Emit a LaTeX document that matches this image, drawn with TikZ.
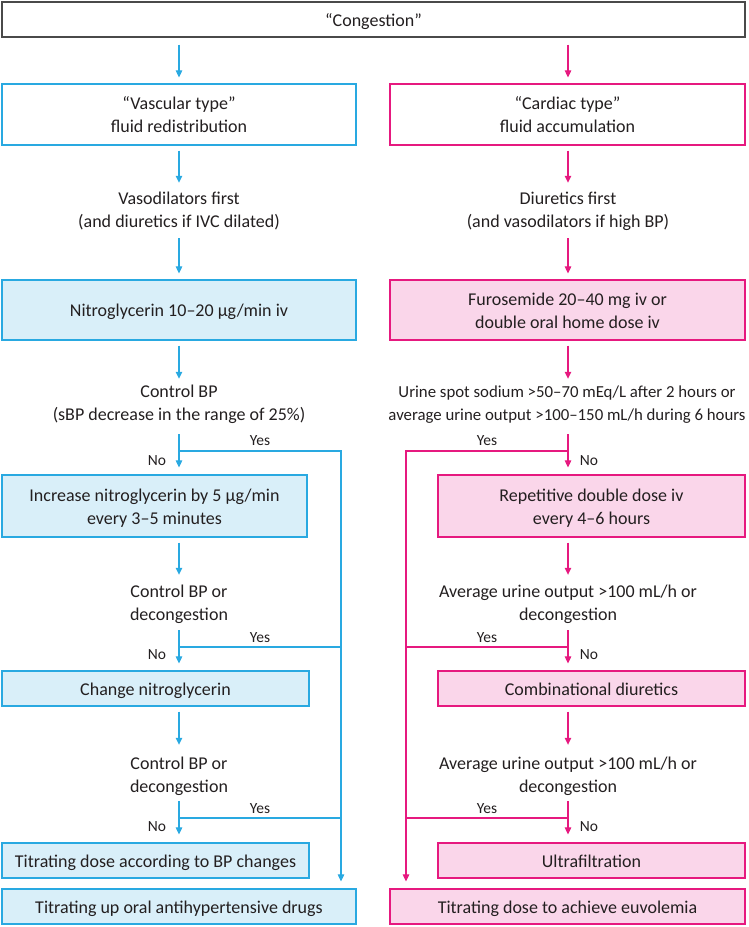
\documentclass[tikz,border=0pt]{standalone}
\usepackage{fontspec}
\setmainfont{Carlito}
\usetikzlibrary{arrows.meta}
\definecolor{bl}{HTML}{29A9E1}
\definecolor{blf}{HTML}{D9EFF9}
\definecolor{pk}{HTML}{E6197F}
\definecolor{pkf}{HTML}{FAD6EA}
\definecolor{tx}{HTML}{231F20}
\definecolor{gr}{HTML}{4A4A4A}
\newcommand\mystrut{\rule[-5pt]{0pt}{23pt}}
\newcommand\twol[2]{\mystrut#1\\\mystrut#2}
\begin{document}
\begin{tikzpicture}[x=1pt,y=-1pt,
  every node/.style={text=tx, inner sep=0pt},
  mainfont/.style={font=\fontsize{18}{23}\selectfont},
  box/.style={mainfont, draw, line width=1.2pt, align=center},
  gbox/.style={box, draw=gr, fill=white},
  bbox/.style={box, draw=bl, fill=blf},
  pbox/.style={box, draw=pk, fill=pkf},
  bwbox/.style={box, draw=bl, fill=white},
  pwbox/.style={box, draw=pk, fill=white},
  wide/.style={minimum width=354pt},
  narrow/.style={minimum width=307pt},
  tall/.style={minimum height=61pt},
  short/.style={minimum height=35pt},
  txt/.style={mainfont, align=center},
  lab/.style={font=\fontsize{15.5}{18}\selectfont},
  barr/.style={draw=bl, line width=1.1pt, -{Triangle[length=7pt,width=6.5pt]}},
  parr/.style={draw=pk, line width=1.1pt, -{Triangle[length=7pt,width=6.5pt]}},
  bline/.style={draw=bl, line width=1.1pt},
  pline/.style={draw=pk, line width=1.1pt}]
\useasboundingbox (0,0) rectangle (748,927);

% top
\node[gbox, minimum width=743pt, short] (cong) at (373.5,19.5) {\mystrut“Congestion”};

% left column
\node[bwbox, wide, tall] (vasc) at (179,114.5) {\twol{“Vascular type”}{fluid redistribution}};
\node[txt] (vaso) at (179,209) {\twol{Vasodilators first}{(and diuretics if IVC dilated)}};
\node[bbox, wide, minimum height=60pt] (nitro) at (179,310) {\mystrut Nitroglycerin 10–20 μg/min iv};
\node[txt] (ctrlA) at (179,402) {\twol{Control BP}{(sBP decrease in the range of 25\%)}};
\node[bbox, minimum width=305pt, minimum height=62pt] (inc) at (154.5,506) {\twol{Increase nitroglycerin by 5 μg/min}{every 3–5 minutes}};
\node[txt] (ctrlB) at (179,602) {\twol{Control BP or}{decongestion}};
\node[bbox, narrow, short] (chg) at (155.5,688.5) {\mystrut Change nitroglycerin};
\node[txt] (ctrlC) at (179,774) {\twol{Control BP or}{decongestion}};
\node[bbox, narrow, short] (titr) at (155.5,860.5) {\mystrut Titrating dose according to BP changes};
\node[bbox, wide, short] (oral) at (179,906.5) {\mystrut Titrating up oral antihypertensive drugs};

% right column
\node[pwbox, minimum width=355pt, tall] (card) at (567.5,114.5) {\twol{“Cardiac type”}{fluid accumulation}};
\node[txt] (diur) at (568,209) {\twol{Diuretics first}{(and vasodilators if high BP)}};
\node[pbox, minimum width=355pt, minimum height=60pt] (furo) at (567.5,310) {\twol{Furosemide 20–40 mg iv or}{double oral home dose iv}};
\node[txt, font=\fontsize{16.8}{23}\selectfont] (urineA) at (567,402) {\twol{Urine spot sodium >50–70 mEq/L after 2 hours or}{average urine output >100–150 mL/h during 6 hours}};
\node[pbox, narrow, minimum height=62pt] (rep) at (591.5,506) {\twol{Repetitive double dose iv}{every 4–6 hours}};
\node[txt] (urineB) at (568,602) {\twol{Average urine output >100 mL/h or}{decongestion}};
\node[pbox, narrow, short] (comb) at (591.5,688.5) {\mystrut Combinational diuretics};
\node[txt] (urineC) at (568,774) {\twol{Average urine output >100 mL/h or}{decongestion}};
\node[pbox, narrow, short] (ultra) at (591.5,860.5) {\mystrut Ultrafiltration};
\node[pbox, minimum width=355pt, short] (euvo) at (567.5,906.5) {\mystrut Titrating dose to achieve euvolemia};

% junctions
\coordinate (jA) at (179,451);
\coordinate (jB) at (179,647);
\coordinate (jC) at (179,818);
\coordinate (byL) at (341,451);
\coordinate (kA) at (568,451);
\coordinate (kB) at (568,647);
\coordinate (kC) at (568,818);
\coordinate (byR) at (406,451);

% left arrows
\draw[barr, shorten <=7pt, shorten >=6pt] (cong.south -| vasc.north) -- (vasc.north);
\draw[barr, shorten <=5pt, shorten >=3pt] (vasc.south) -- (vaso.north);
\draw[barr, shorten <=6pt, shorten >=6pt] (vaso.south) -- (nitro.north);
\draw[barr, shorten <=5pt, shorten >=0pt] (nitro.south) -- (ctrlA.north);
\draw[barr, shorten <=9pt, shorten >=7pt] (ctrlA.south) -- (ctrlA.south |- inc.north);
\draw[barr, shorten <=5pt, shorten >=4pt] (ctrlB.north |- inc.south) -- (ctrlB.north);
\draw[barr, shorten <=5pt, shorten >=7pt] (ctrlB.south) -- (ctrlB.south |- chg.north);
\draw[barr, shorten <=5pt, shorten >=6pt] (ctrlC.north |- chg.south) -- (ctrlC.north);
\draw[barr, shorten <=4pt, shorten >=8pt] (ctrlC.south) -- (ctrlC.south |- titr.north);
% left yes bypass
\draw[barr, shorten >=7pt] (jA) -- (byL) -- (byL |- oral.north);
\draw[bline] (jB) -- (jB -| byL);
\draw[bline] (jC) -- (jC -| byL);

% right arrows
\draw[parr, shorten <=7pt, shorten >=6pt] (cong.south -| diur.north) -- (diur.north |- card.north);
\draw[parr, shorten <=5pt, shorten >=3pt] (diur.north |- card.south) -- (diur.north);
\draw[parr, shorten <=6pt, shorten >=6pt] (diur.south) -- (diur.south |- furo.north);
\draw[parr, shorten <=5pt, shorten >=0pt] (kA |- furo.south) -- (kA |- urineA.north);
\draw[parr, shorten <=9pt, shorten >=7pt] (kA |- urineA.south) -- (kA |- rep.north);
\draw[parr, shorten <=5pt, shorten >=4pt] (urineB.north |- rep.south) -- (urineB.north);
\draw[parr, shorten <=5pt, shorten >=7pt] (urineB.south) -- (urineB.south |- comb.north);
\draw[parr, shorten <=5pt, shorten >=6pt] (urineC.north |- comb.south) -- (urineC.north);
\draw[parr, shorten <=4pt, shorten >=8pt] (urineC.south) -- (urineC.south |- ultra.north);
% right yes bypass
\draw[parr, shorten >=7pt] (kA) -- (byR) -- (byR |- euvo.north);
\draw[pline] (kB) -- (kB -| byR);
\draw[pline] (kC) -- (kC -| byR);

% labels
\node[lab] (yA) at (260,441) {Yes};
\node[lab] (yB) at (260,638) {Yes};
\node[lab] (yC) at (260,809) {Yes};
\node[lab] (nA) at (157,461) {No};
\node[lab] (nB) at (157,655) {No};
\node[lab] (nC) at (157,827) {No};
\node[lab] (ryA) at (487,441) {Yes};
\node[lab] (ryB) at (487,638) {Yes};
\node[lab] (ryC) at (487,809) {Yes};
\node[lab] (rnA) at (589,461) {No};
\node[lab] (rnB) at (589,655) {No};
\node[lab] (rnC) at (589,827) {No};
\end{tikzpicture}
\end{document}
